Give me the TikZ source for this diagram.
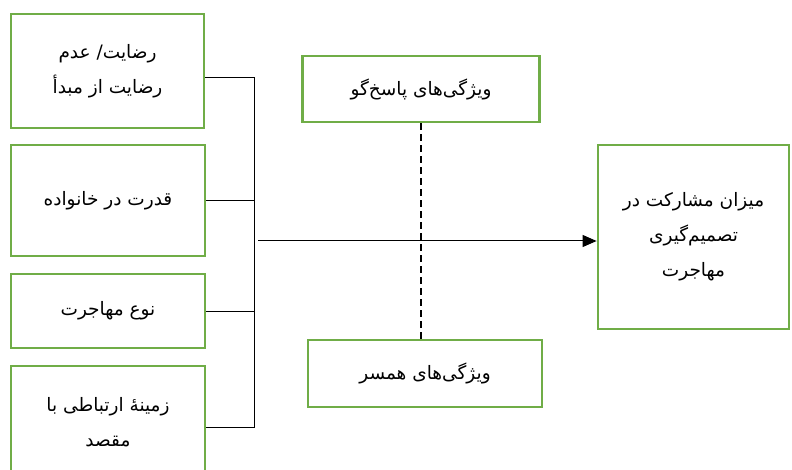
\documentclass[tikz,border=0pt]{standalone}
\usepackage{fontspec}
\newfontfamily\arabicfont[Script=Arabic]{DejaVu Sans}
\TeXXeTstate=1
\usetikzlibrary{arrows.meta}
\definecolor{boxgreen}{RGB}{112,173,71}
\newcommand{\fa}[1]{{\arabicfont\beginR #1\endR}}

\begin{document}
\begin{tikzpicture}[x=1pt,y=-1pt,
        font=\fontsize{18.5}{35}\selectfont,
        main node/.style={rectangle,draw=boxgreen,line width=2.8pt,inner sep=2pt,align=center},
        link/.style={line width=1pt},
        dash link/.style={line width=1.3pt,dash pattern=on 7pt off 4pt}]

    \useasboundingbox (0,0) rectangle (792,470);

    \node[main node] [minimum width=193pt,minimum height=114pt] (f1) at (107.5,71) {\fa{رضایت/ عدم}\\\fa{رضایت از مبدأ}};
    \node[main node] [minimum width=194pt,minimum height=111pt] (f2) at (108,200.5) {\fa{قدرت در خانواده}};
    \node[main node] [minimum width=194pt,minimum height=74pt] (f3) at (108,311) {\fa{نوع مهاجرت}};
    \node[main node] [minimum width=194pt,minimum height=112pt] (f4) at (108,422) {\fa{زمینهٔ ارتباطی با}\\\fa{مقصد}};
    \node[main node] [minimum width=237pt,minimum height=66pt] (resp) at (421,89) {\fa{ویژگی‌های پاسخ‌گو}};
    \node[main node] [minimum width=234pt,minimum height=67pt] (spouse) at (425,373.5) {\fa{ویژگی‌های همسر}};
    \node[main node] [minimum width=191pt,minimum height=184pt] (dec) at (693.5,237) {\fa{میزان مشارکت در}\\\fa{تصمیم‌گیری}\\\fa{مهاجرت}};

    \coordinate (bustop) at (254,78);
    \coordinate (busbot) at (254,427);
    \coordinate (hub) at (258,241);

    \draw[link] (f1.east |- bustop) -- (bustop) -- (busbot) -- (f4.east |- busbot);
    \draw[link] (f2.east) -- (f2.east -| bustop);
    \draw[link] (f3.east) -- (f3.east -| bustop);
    \draw[link,-{Triangle[length=14pt,width=12pt]}] (hub) -- (hub -| dec.west);
    \draw[dash link] (resp.south) -- (resp.south |- spouse.north);
\end{tikzpicture}
\end{document}
